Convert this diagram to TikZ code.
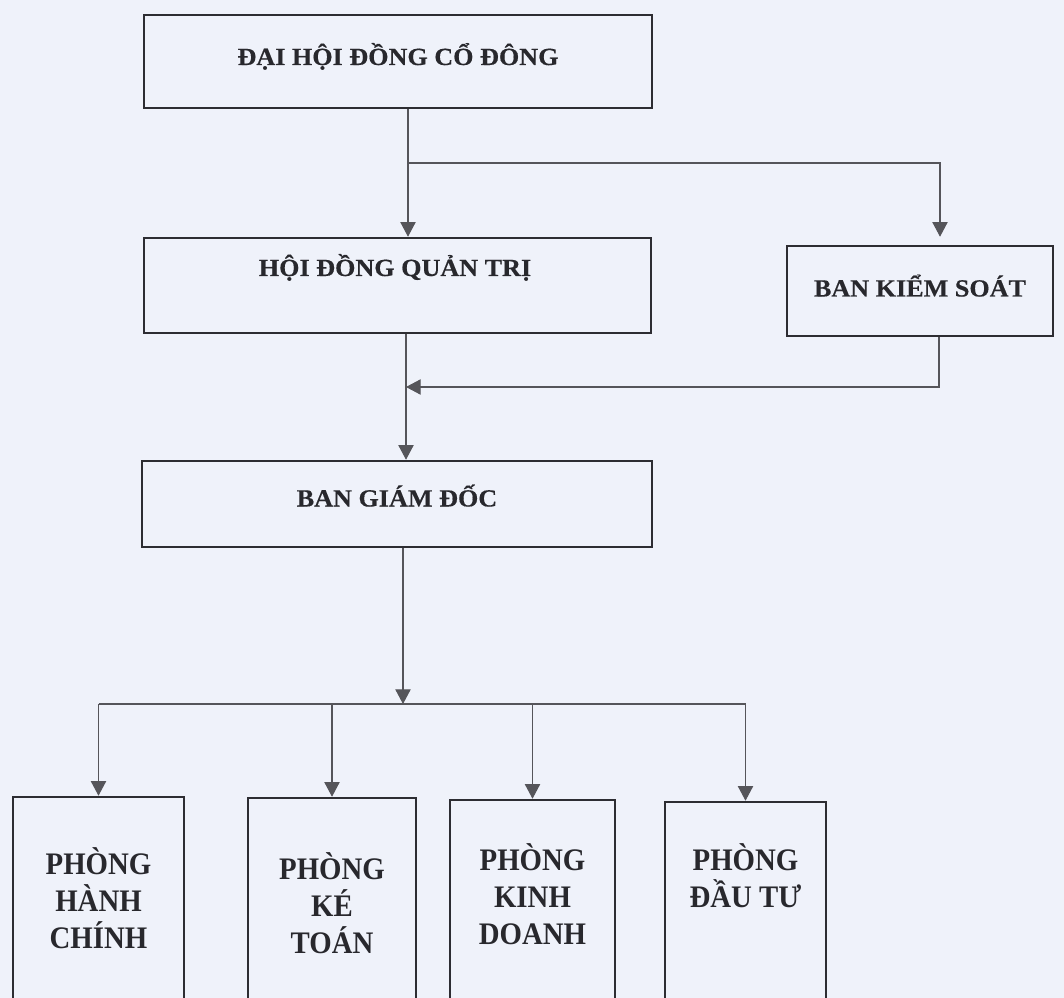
\documentclass[tikz,border=0pt]{standalone}
\usepackage{fontspec}
\setmainfont{Liberation Serif}
\newfontfamily\topfont[FakeStretch=1.06,FakeBold=0.4]{Liberation Serif}
\newfontfamily\subfont[FakeStretch=0.92]{Liberation Serif}
\usetikzlibrary{arrows.meta}
\definecolor{bg}{RGB}{239,242,250}
\definecolor{boxline}{RGB}{45,45,50}
\definecolor{connc}{RGB}{85,85,90}
\definecolor{txt}{RGB}{40,40,45}
\tikzset{
  orgbox/.style={draw=boxline, line width=1.9pt, rectangle, inner sep=0pt},
  toptext/.style={font=\topfont\bfseries\fontsize{18.5}{22}\selectfont, text=txt, anchor=base, inner sep=0pt},
  subtext/.style={font=\subfont\bfseries\fontsize{23.5}{27.75}\selectfont, text=txt, align=center, inner sep=0pt},
  conn/.style={draw=connc, line width=0.8pt},
  arr/.style={conn, -{Triangle[length=11pt,width=11.5pt]}},
}
\begin{document}
\begin{tikzpicture}[x=0.75pt,y=-0.75pt]
\fill[bg] (0,0) rectangle (1064,998);
\useasboundingbox (0,0) rectangle (1064,998);
\clip (0,0) rectangle (1064,998);

% boxes
\node[orgbox, minimum width=381pt, minimum height=69.75pt] (dh) at (398,61.5) {};
\node[orgbox, minimum width=380.25pt, minimum height=71.25pt] (hd) at (397.5,285.5) {};
\node[orgbox, minimum width=199.5pt, minimum height=67.5pt] (bks) at (920,291) {};
\node[orgbox, minimum width=382.5pt, minimum height=64.5pt] (bgd) at (397,504) {};
\node[orgbox, minimum width=128.25pt, minimum height=161.25pt] (p1) at (98.5,904.5) {};
\node[orgbox, minimum width=126pt, minimum height=160.5pt] (p2) at (332,905) {};
\node[orgbox, minimum width=123.75pt, minimum height=159pt] (p3) at (532.5,906) {};
\node[orgbox, minimum width=120.75pt, minimum height=157.5pt] (p4) at (745.5,907) {};

% texts
\node[toptext] (tdh) at (398,65) {ĐẠI HỘI ĐỒNG CỔ ĐÔNG};
\node[toptext] (thd) at (395,276) {HỘI ĐỒNG QUẢN TRỊ};
\node[toptext] (tbks) at (920,296.5) {BAN KIỂM SOÁT};
\node[toptext] (tbgd) at (397,506.5) {BAN GIÁM ĐỐC};
\node[subtext] (t1) at (98.5,898) {PHÒNG\\HÀNH\\CHÍNH};
\node[subtext] (t2) at (332,903) {PHÒNG\\KÉ\\TOÁN};
\node[subtext] (t3) at (532.5,894) {PHÒNG\\KINH\\DOANH};
\node[subtext] (t4) at (745.5,876) {PHÒNG\\ĐẦU TƯ};

% junction coordinates
\coordinate (j1) at (408,163);
\coordinate (j2) at (940,163);
\coordinate (m1) at (406,387);
\coordinate (f1) at (939,387);
\coordinate (b0) at (403,704);

% connectors
\draw[arr] (dh.south -| j1) -- (hd.north -| j1);
\draw[arr, shorten >=6pt] (j1) -- (j2) -- (bks.north -| j2);
\draw[arr] (hd.south -| m1) -- (bgd.north -| m1);
\draw[arr] (bks.south -| f1) -- (f1) -- (m1);
\draw[arr] (bgd.south -| b0) -- (b0);
\draw[conn] (p1.north |- b0) -- (p4.north |- b0);
\draw[arr] (p1.north |- b0) -- (p1.north);
\draw[arr] (p2.north |- b0) -- (p2.north);
\draw[arr] (p3.north |- b0) -- (p3.north);
\draw[arr] (p4.north |- b0) -- (p4.north);
\end{tikzpicture}
\end{document}
